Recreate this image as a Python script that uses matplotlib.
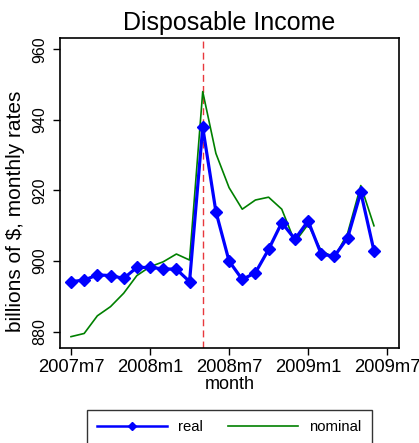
import matplotlib
matplotlib.use("Agg")
import matplotlib.pyplot as plt
from matplotlib.lines import Line2D

plt.rcParams['font.family'] = ['Liberation Sans', 'DejaVu Sans']

months = ["2007m7","2007m8","2007m9","2007m10","2007m11","2007m12",
          "2008m1","2008m2","2008m3","2008m4","2008m5","2008m6",
          "2008m7","2008m8","2008m9","2008m10","2008m11","2008m12",
          "2009m1","2009m2","2009m3","2009m4","2009m5","2009m6"]
real = [894.2, 894.6, 896.1, 895.9, 895.1, 898.2,
        898.2, 897.8, 897.7, 894.2, 937.9, 914.0,
        900.0, 894.8, 896.7, 903.3, 910.9, 906.2,
        911.4, 901.9, 901.4, 906.6, 919.5, 902.9]
nominal = [878.6, 879.5, 884.5, 887.1, 890.9, 895.9,
           898.4, 899.8, 902.0, 900.3, 948.0, 930.5,
           920.8, 914.7, 917.3, 918.1, 914.7, 905.4,
           910.4, 902.9, 901.0, 907.9, 921.4, 910.0]
xtick_labels = ["2007m7", "2008m1", "2008m7", "2009m1", "2009m7"]
ytick_values = [880, 900, 920, 940, 960]
event_month = "2008m5"

x = list(range(len(months)))
fig = plt.figure(figsize=(4.19, 4.43), dpi=100)
ax = fig.add_axes([60/419, 1-348.3/443, 339/419, 310/443])

ax.plot(x, real, color='#0000ff', lw=2.3, marker='D', ms=6.5, label='real', zorder=3)
ax.plot(x, nominal, color='#008000', lw=1.2, label='nominal', zorder=2)
ax.axvline(months.index(event_month), color='#e8383d', lw=1.0, ls=(0, (5, 3)), zorder=1)

ax.set_xlim(-0.835, 24.9)
ax.set_ylim(875.3, 963.1)
ax.set_xticks([0, 6, 12, 18, 24])
ax.set_xticklabels(xtick_labels, fontsize=13.2)
ax.set_yticks(ytick_values)
ax.set_yticklabels([str(v) for v in ytick_values], rotation=90, va='center', fontsize=11.5)
ax.tick_params(direction='out', length=5, width=1, pad=3)
ax.tick_params(axis='y', pad=4)
for s in ax.spines.values():
    s.set_linewidth(1.2)
ax.set_xlabel('month', fontsize=13, labelpad=0)
ax.set_ylabel('billions of $, monthly rates', fontsize=15)
ax.yaxis.set_label_coords(-0.104, 0.443)
ax.set_title('Disposable Income', fontsize=18, pad=6)

handles = [Line2D([], [], color='#0000ff', lw=1.8, marker='D', ms=4.5),
           Line2D([], [], color='#008000', lw=1.2)]
leg = fig.legend(handles, ['real', 'nominal'], loc='upper center',
                 bbox_to_anchor=(229.5/419, 1-410/443), ncol=2, fontsize=10.7,
                 frameon=True, fancybox=False, edgecolor='black',
                 handlelength=4.7, handletextpad=0.75, columnspacing=1.7,
                 borderpad=0.7, borderaxespad=0, markerfirst=True)
leg.get_frame().set_linewidth(1.0)
fig.savefig('out.png', dpi=100)
